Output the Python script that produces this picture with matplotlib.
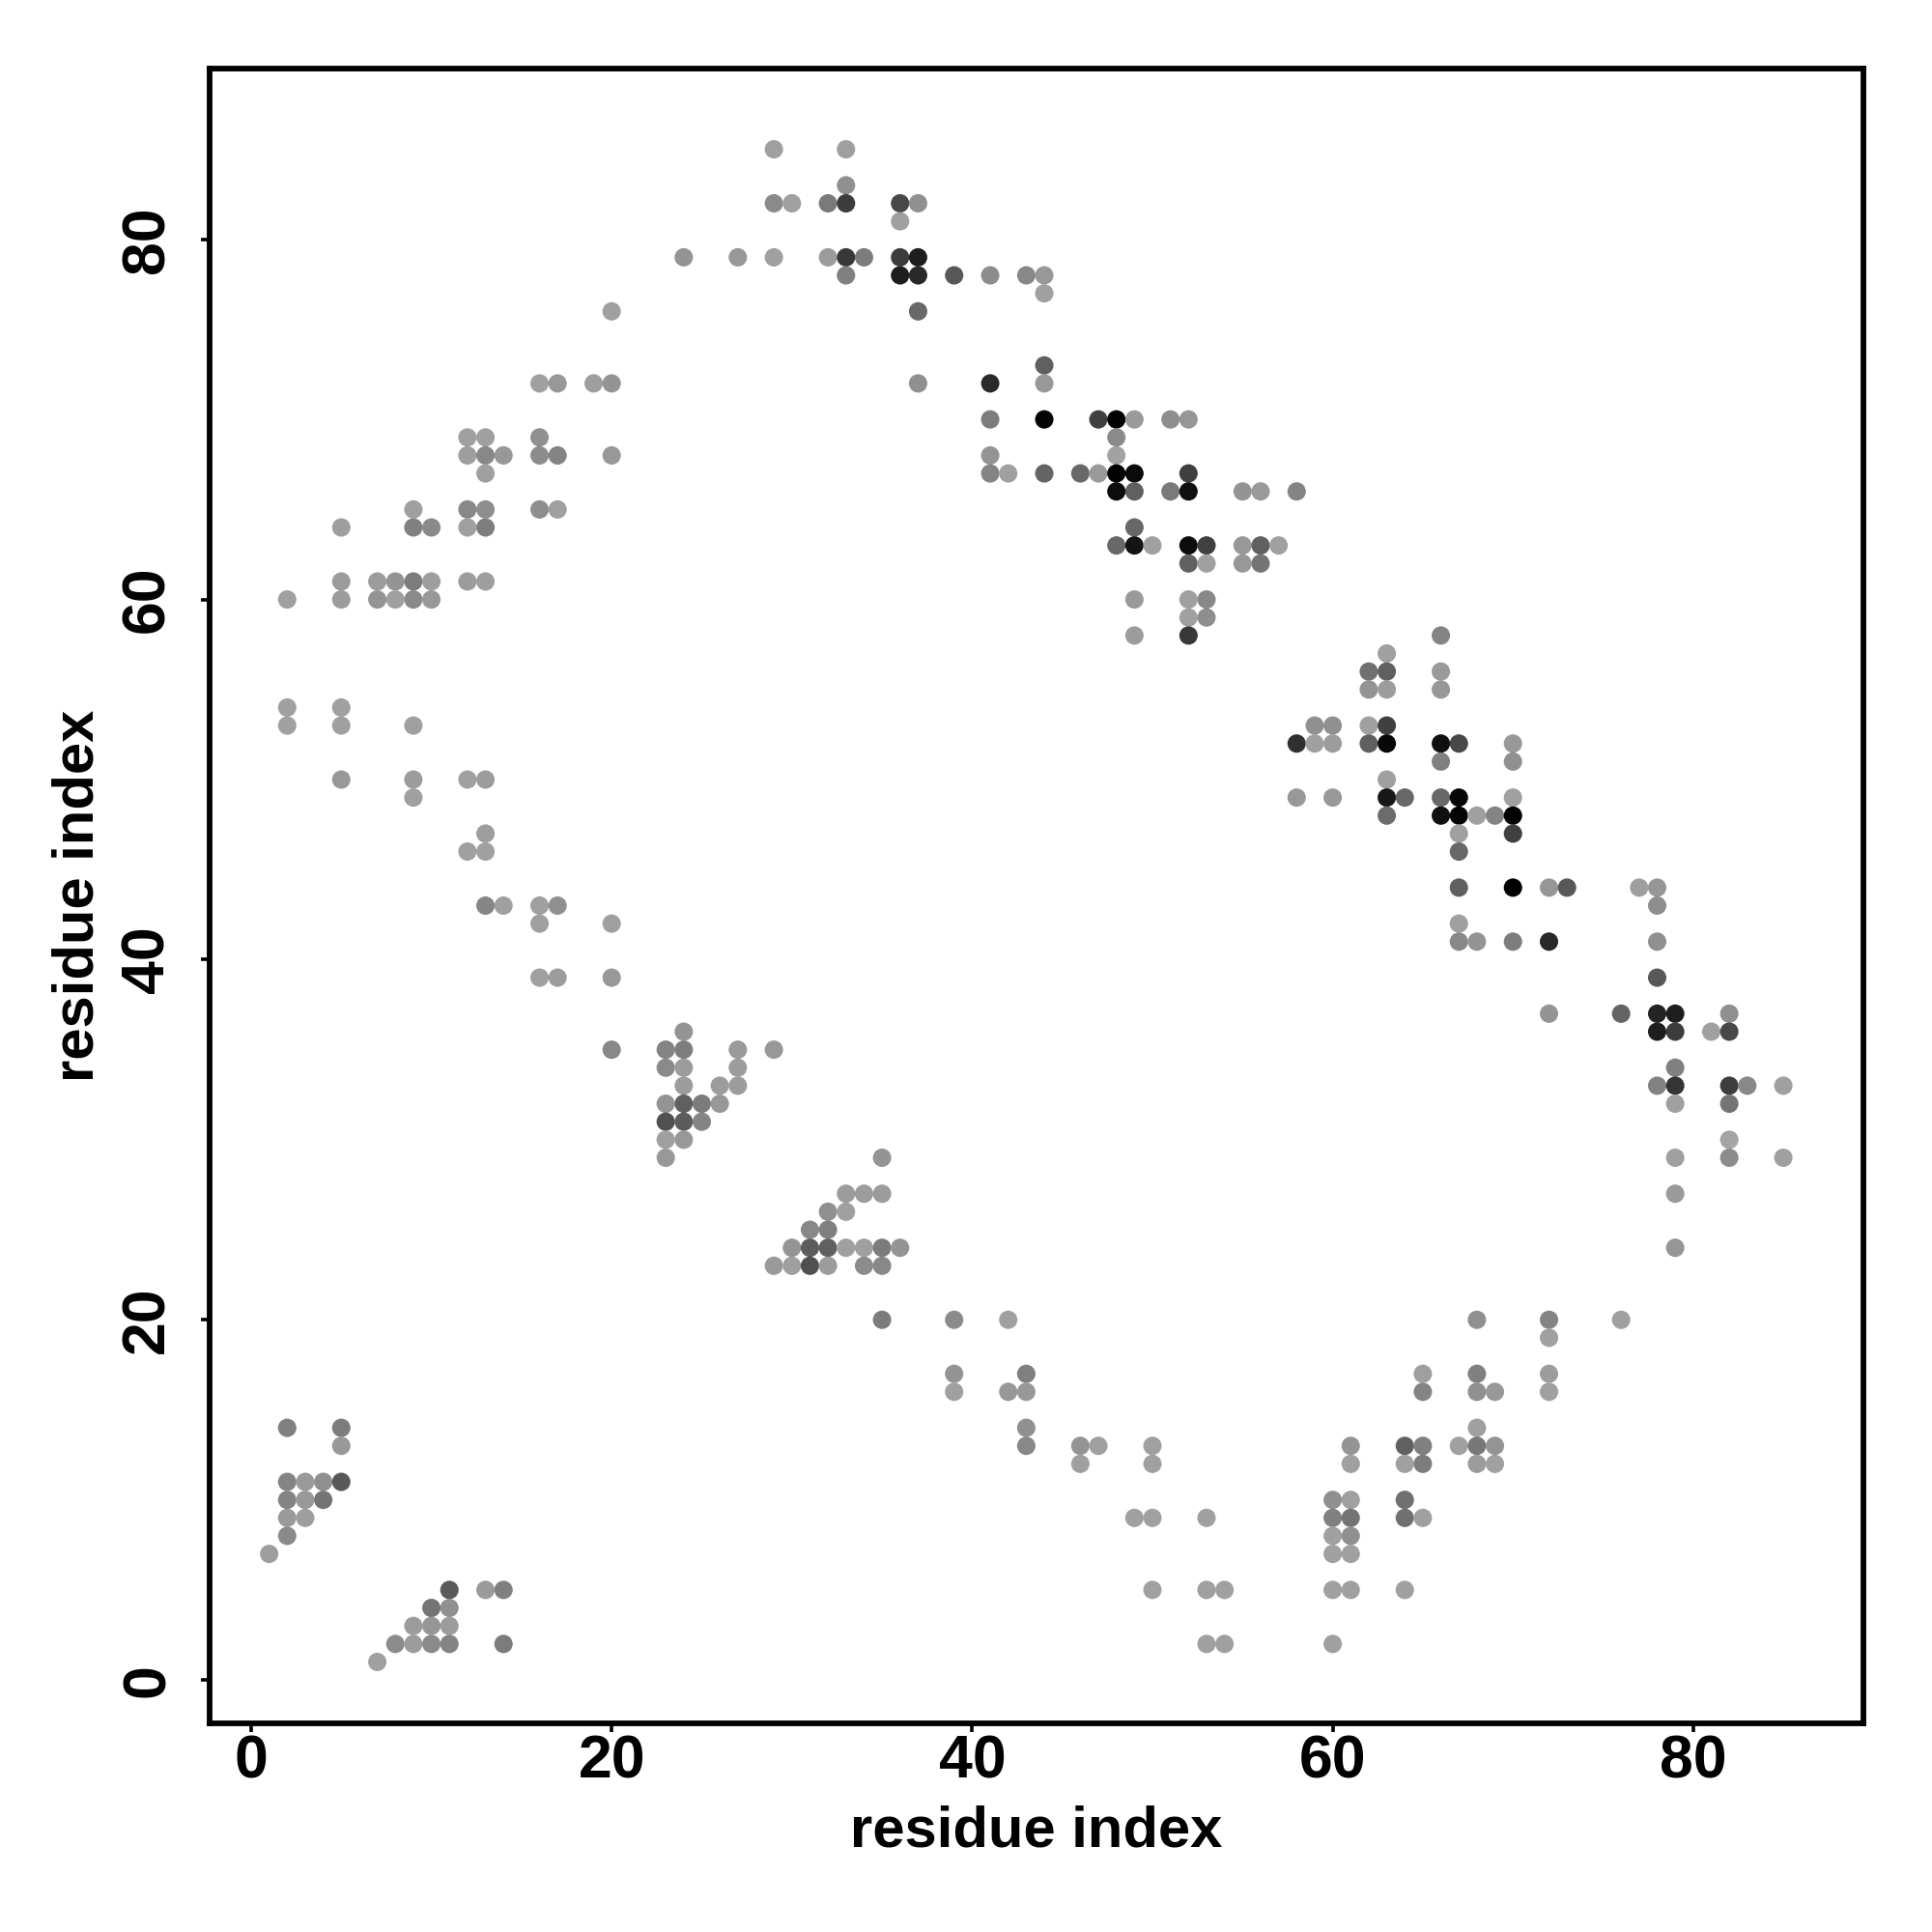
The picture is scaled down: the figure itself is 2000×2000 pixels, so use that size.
import numpy as np
import matplotlib
matplotlib.use('Agg')
import matplotlib.pyplot as plt

# one entry per row of the map: y index, x indices, grey level of each dot
row_y = [85, 83, 82, 81, 79, 78, 77, 76, 73, 72, 70, 69, 68, 67, 66, 65, 64, 63, 62, 61, 60, 59, 58,
         57, 56, 55, 54, 53, 52, 51, 50, 49, 48, 47, 46, 44, 43, 42, 41, 39, 37, 36, 35, 34, 33, 32,
         31, 30, 29, 27, 26, 25, 24, 23, 20, 19, 17, 16, 14, 13, 12, 11, 10, 9, 8, 7, 5, 4, 3, 2, 1]

row_x = [
    [29, 33],
    [33],
    [29, 30, 32, 33, 36, 37],
    [36],
    [24, 27, 29, 32, 33, 34, 36, 37],
    [33, 36, 37, 39, 41, 43, 44],
    [44],
    [20, 37],
    [44],
    [16, 17, 19, 20, 37, 41, 44],
    [41, 44, 47, 48, 49, 51, 52],
    [12, 13, 16, 48],
    [12, 13, 14, 16, 17, 20, 41, 48],
    [13, 41, 42, 44, 46, 47, 48, 49, 52],
    [48, 49, 51, 52, 55, 56, 58],
    [9, 12, 13, 16, 17],
    [5, 9, 10, 12, 13, 49],
    [48, 49, 50, 52, 53, 55, 56, 57],
    [52, 53, 55, 56],
    [5, 7, 8, 9, 10, 12, 13],
    [2, 5, 7, 8, 9, 10, 49, 52, 53],
    [52, 53],
    [49, 52, 66],
    [63],
    [62, 63, 66],
    [62, 63, 66],
    [2, 5],
    [2, 5, 9, 59, 60, 62, 63],
    [58, 59, 60, 62, 63, 66, 67, 70],
    [66, 70],
    [5, 9, 12, 13, 63],
    [9, 58, 60, 63, 64, 66, 67, 70],
    [63, 66, 67, 68, 69, 70],
    [13, 67, 70],
    [12, 13, 67],
    [67, 70, 72, 73, 77, 78],
    [13, 14, 16, 17, 78],
    [16, 20, 67],
    [67, 68, 70, 72, 78],
    [16, 17, 20, 78],
    [72, 76, 78, 79, 82],
    [78, 79, 81, 82, 24],
    [20, 23, 24, 27, 29],
    [23, 24, 27, 79],
    [24, 26, 27, 78, 79, 82, 83, 85],
    [23, 24, 25, 26, 79, 82],
    [23, 24, 25],
    [23, 24, 82],
    [23, 35, 79, 82, 85],
    [33, 34, 35, 79],
    [32, 33],
    [31, 32],
    [30, 31, 32, 33, 34, 35, 36, 79],
    [29, 30, 31, 32, 34, 35],
    [35, 39, 42, 68, 72, 76],
    [72],
    [39, 43, 65, 68, 72],
    [39, 42, 43, 65, 68, 69, 72],
    [2, 5, 43, 68],
    [5, 43, 46, 47, 50, 61, 64, 65, 67, 68, 69],
    [46, 50, 61, 64, 65, 68, 69],
    [2, 3, 4, 5],
    [2, 3, 4, 60, 61, 64],
    [2, 3, 49, 50, 53, 60, 61, 64, 65],
    [2, 60, 61],
    [1, 60, 61],
    [11, 13, 14, 50, 53, 54, 60, 61, 64],
    [10, 11],
    [9, 10, 11],
    [8, 9, 10, 11, 14, 53, 54, 60],
    [7],
]

row_grey = [
    [0x9f, 0x9f],
    [0x90],
    [0x8a, 0xa0, 0x7a, 0x3c, 0x48, 0x90],
    [0xa0],
    [0x94, 0x98, 0xa0, 0x9c, 0x38, 0x7c, 0x3c, 0x1e],
    [0x80, 0x1e, 0x28, 0x58, 0x8c, 0x88, 0x98],
    [0xa0],
    [0xa0, 0x68],
    [0x60],
    [0xa0, 0x98, 0x9e, 0x94, 0x90, 0x2a, 0x98],
    [0x7c, 0x04, 0x40, 0x02, 0x9a, 0x8e, 0x96],
    [0xa0, 0xa0, 0x90, 0x8a],
    [0x9e, 0x88, 0x98, 0x8c, 0x84, 0x98, 0x94, 0xa2],
    [0xa0, 0x84, 0xa0, 0x64, 0x68, 0x9a, 0x02, 0x0a, 0x40],
    [0x0c, 0x60, 0x7a, 0x10, 0x94, 0x9a, 0x84],
    [0xa0, 0x88, 0x8e, 0x8e, 0xa0],
    [0x9e, 0x80, 0x8a, 0xa0, 0x7e, 0x68],
    [0x68, 0x14, 0xa0, 0x0c, 0x40, 0x98, 0x60, 0xa0],
    [0x60, 0xa0, 0x98, 0x74],
    [0x9c, 0x9c, 0x94, 0x7c, 0x9e, 0x9c, 0x9e],
    [0xa0, 0x9c, 0x94, 0xa0, 0x8a, 0x98, 0x9a, 0xa0, 0x88],
    [0xa0, 0x8e],
    [0x9c, 0x38, 0x84],
    [0xa0],
    [0x70, 0x60, 0x9a],
    [0x94, 0x9c, 0x98],
    [0xa0, 0xa0],
    [0xa0, 0xa0, 0xa0, 0x90, 0x90, 0xa0, 0x40],
    [0x30, 0xa0, 0x9c, 0x60, 0x08, 0x10, 0x48, 0x98],
    [0x80, 0x90],
    [0x98, 0x9c, 0xa0, 0x9c, 0xa0],
    [0xa0, 0x98, 0x98, 0x18, 0x68, 0x68, 0x08, 0xa0],
    [0x6c, 0x10, 0x04, 0xa0, 0x84, 0x02],
    [0x9e, 0xa0, 0x40],
    [0xa0, 0xa0, 0x68],
    [0x60, 0x00, 0x96, 0x58, 0x9e, 0x96],
    [0x86, 0xa0, 0xa0, 0x90, 0x8e],
    [0xa0, 0xa0, 0xa0],
    [0x88, 0x94, 0x7c, 0x28, 0x90],
    [0xa0, 0x9c, 0x98, 0x58],
    [0x94, 0x64, 0x24, 0x1e, 0x90],
    [0x1e, 0x3c, 0xa0, 0x48, 0x94],
    [0x88, 0x84, 0x7e, 0x9a, 0x98],
    [0x8a, 0x9c, 0x9c, 0x80],
    [0x9c, 0x9c, 0x9c, 0x82, 0x34, 0x3e, 0x88, 0xa0],
    [0x94, 0x60, 0x7c, 0x98, 0xa0, 0x74],
    [0x50, 0x5c, 0x84],
    [0xa0, 0x98, 0xa4],
    [0x98, 0x94, 0xa0, 0x8c, 0xa0],
    [0x9c, 0x9c, 0x9c, 0x9a],
    [0x90, 0xa0],
    [0x88, 0x80],
    [0x94, 0x5c, 0x60, 0xa0, 0xa0, 0x7c, 0x94, 0x96],
    [0x9a, 0xa0, 0x50, 0x9c, 0x8c, 0x88],
    [0x7c, 0x8c, 0xa0, 0x90, 0x84, 0xa0],
    [0xa0],
    [0x94, 0x80, 0xa0, 0x80, 0x9c],
    [0xa0, 0x98, 0x98, 0x84, 0x90, 0x98, 0xa0],
    [0x80, 0x7c, 0x90, 0xa0],
    [0x98, 0x88, 0x94, 0xa0, 0xa0, 0x94, 0x60, 0x80, 0xa0, 0x78, 0x94],
    [0xa0, 0xa0, 0xa0, 0xa0, 0x7c, 0x9c, 0xa0],
    [0x84, 0x9a, 0x90, 0x58],
    [0x84, 0x98, 0x74, 0x90, 0xa0, 0x70],
    [0x9a, 0x9e, 0xa0, 0xa0, 0xa0, 0x80, 0x74, 0x70, 0xa0],
    [0x8a, 0xa0, 0x90],
    [0x9e, 0xa0, 0xa0],
    [0x5a, 0x9a, 0x80, 0xa0, 0xa0, 0xa0, 0xa0, 0xa0, 0xa0],
    [0x74, 0x90],
    [0x9c, 0x96, 0x9c],
    [0x8c, 0x9c, 0x8a, 0x84, 0x7c, 0xa0, 0xa0, 0xa0],
    [0xa0],
]

ticks = [0, 20, 40, 60, 80]
axis_title = 'residue index'

plt.rcParams['font.family'] = ['Liberation Sans', 'DejaVu Sans']
fig = plt.figure(figsize=(10, 10), dpi=200)
ax = fig.add_axes([216.5/2000, 1-1784/2000, (1928.6-216.5)/2000, (1784-71.4)/2000])

xs, ys, cs = [], [], []
for y, row, greys in zip(row_y, row_x, row_grey):
    for x, g in zip(row, greys):
        xs.append(x)
        ys.append(y)
        cs.append((g/255, g/255, g/255))
ax.scatter(xs, ys, s=47, c=cs, linewidths=0, zorder=3)

ax.set_xlim(-2.33, 89.42)
ax.set_ylim(-2.41, 89.46)
ax.set_xticks(ticks)
ax.set_yticks(ticks)
ax.tick_params(axis='x', length=3.2, width=1.3, pad=0.5, labelsize=22.5)
ax.tick_params(axis='y', length=3.2, width=1.3, pad=9, labelsize=22.5)
for lab in ax.get_xticklabels():
    lab.set_fontweight('bold')
for lab in ax.get_yticklabels():
    lab.set_fontweight('bold')
    lab.set_rotation(90)
    lab.set_va('center')
for s in ax.spines.values():
    s.set_linewidth(2.1)

ax.set_xlabel(axis_title, fontsize=21.5, fontweight='bold', labelpad=5.5)
ax.set_ylabel(axis_title, fontsize=21.5, fontweight='bold', labelpad=5.3)

fig.savefig('out.png', dpi=200, facecolor='white')
